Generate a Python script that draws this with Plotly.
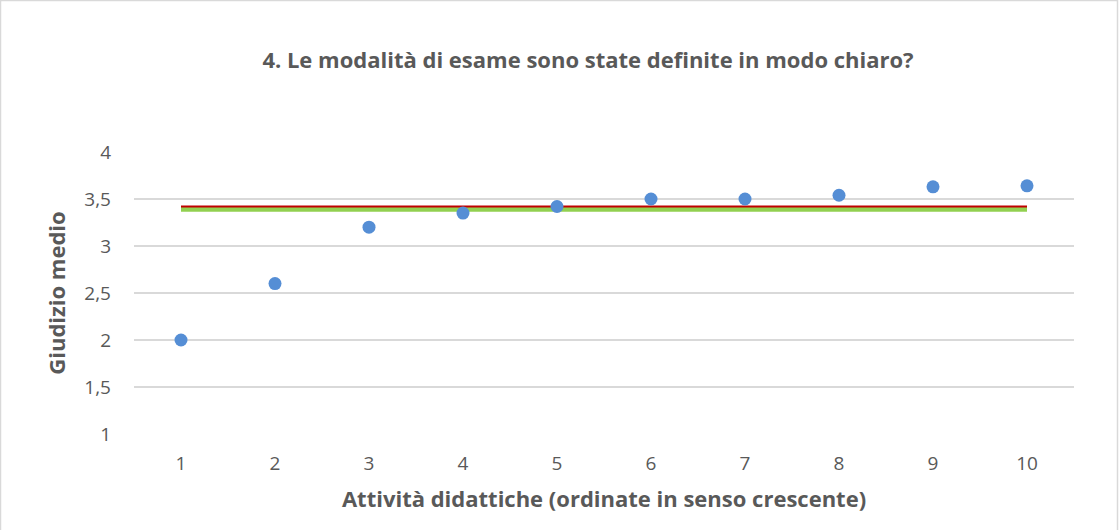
import plotly.graph_objects as go

activities = [1, 2, 3, 4, 5, 6, 7, 8, 9, 10]
giudizio = [2.0, 2.6, 3.2, 3.35, 3.42, 3.5, 3.5, 3.54, 3.63, 3.64]
line_x = [1, 10]
red_level = [3.42, 3.42]
green_level = [3.39, 3.39]
y_ticks = [1, 1.5, 2, 2.5, 3, 3.5, 4]
y_tick_labels = ["1", "1,5", "2", "2,5", "3", "3,5", "4"]

W, H = 1119, 530
ml, mr, mt, mb = 134, 45, 152, 96
pw, ph = W - ml - mr, H - mt - mb

font = "'Open Sans', sans-serif"
grey = "#595959"

fig = go.Figure()
fig.add_trace(go.Scatter(x=line_x, y=green_level, mode="lines",
                         line=dict(color="#92D050", width=5), hoverinfo="skip"))
fig.add_trace(go.Scatter(x=line_x, y=red_level, mode="lines",
                         line=dict(color="#C00000", width=2), hoverinfo="skip"))
fig.add_trace(go.Scatter(x=activities, y=giudizio, mode="markers",
                         marker=dict(color="#558ED5", size=13, line=dict(width=0))))

fig.update_layout(
    width=W, height=H,
    margin=dict(l=ml, r=mr, t=mt, b=mb),
    paper_bgcolor="white", plot_bgcolor="white",
    showlegend=False,
    font=dict(family=font, color=grey),
    title=dict(text="<b>4. Le modalità di esame sono state definite in modo chiaro?</b>",
               x=588 / W, xanchor="center", y=1 - 60 / H, yanchor="middle",
               font=dict(size=22, color=grey, family=font)),
    xaxis=dict(range=[0.5, 10.5], tickvals=activities, ticktext=[str(a) for a in activities],
               showgrid=False, zeroline=False, showline=False, ticks="",
               tickfont=dict(size=19, color=grey), ticklabelstandoff=16,
               title=dict(text="<b>Attività didattiche (ordinate in senso crescente)</b>",
                          font=dict(size=22, color=grey), standoff=16)),
    yaxis=dict(range=[1, 4], tickvals=y_ticks, ticktext=y_tick_labels,
               showgrid=True, gridcolor="#D9D9D9", gridwidth=1.5,
               zeroline=False, showline=False, ticks="",
               tickfont=dict(size=19, color=grey), ticklabelstandoff=22,
               title=dict(text="<b>Giudizio medio</b>", font=dict(size=22, color=grey), standoff=12)),
)

# chart border
fig.add_shape(type="rect", xref="paper", yref="paper",
              x0=(0.5 - ml) / pw, x1=(W - 1.5 - ml) / pw,
              y0=(mb - H - 10) / ph, y1=(H - 0.5 - mb) / ph,
              line=dict(color="#D9D9D9", width=1.5), layer="below")

fig.write_html("out.html", config={"displayModeBar": False},
               post_script="document.body.style.margin='0';document.body.style.overflow='hidden';")
